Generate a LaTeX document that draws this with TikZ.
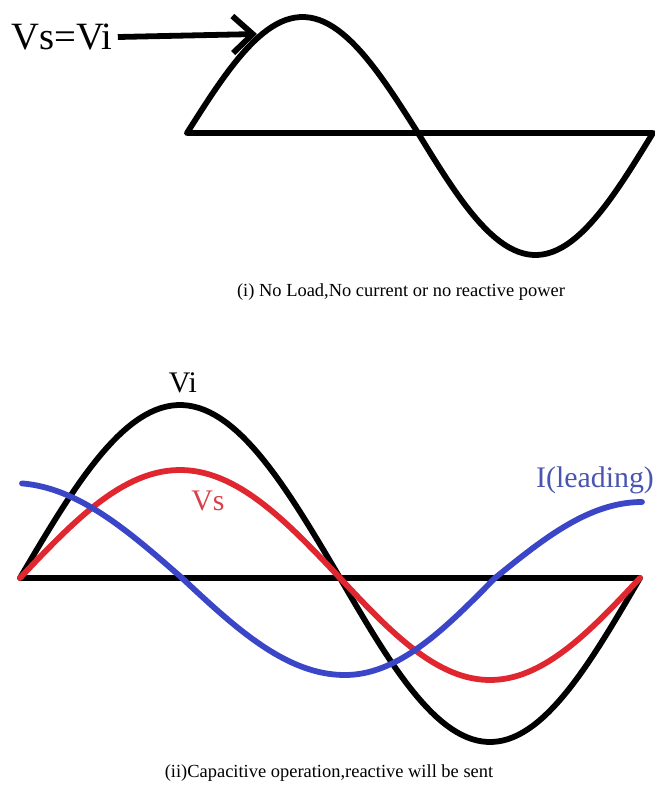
\documentclass[tikz,border=0pt]{standalone}
\usepackage{fontspec}
\setmainfont{Liberation Serif}
\usetikzlibrary{arrows.meta, positioning}
\definecolor{vsred}{HTML}{E0262E}
\definecolor{iblue}{HTML}{3A45C8}
\definecolor{vstext}{HTML}{D8404A}
\definecolor{itext}{HTML}{4A55B0}

\begin{document}
\begin{tikzpicture}[
  x=0.02cm, y=-0.02cm,
  wave/.style={line width=3.3pt, line join=round, line cap=round},
  axisline/.style={line width=3.3pt},
  lbl/.style={inner sep=0pt, font=\fontsize{17}{17}\selectfont},
  caption/.style={inner sep=0pt, font=\fontsize{10.5}{12}\selectfont},
  arr/.style={line width=3.3pt, -{Straight Barb[length=4mm, width=7.4mm, line width=3.3pt]}},
]
  \useasboundingbox (0,0) rectangle (655,789);

  % (i) no load
  \coordinate (ax1l) at (187,133);
  \coordinate (ax1r) at (653,133);
  \coordinate (pk1)  at (257,34);
  \draw[axisline] (ax1l) -- (ax1r);
  \draw[wave]
    plot[domain=187:418, samples=50] (\x, {133 - 116*sin((\x-187)/231*180)})
    -- plot[domain=418:653, samples=50] (\x, {133 + 122*sin((\x-418)/235*180)});

  \node[lbl, font=\fontsize{22}{22}\selectfont, anchor=west] (vsvi) at (11,37) {Vs=Vi};
  \draw[arr] ([xshift=1mm]vsvi.east) -- (pk1);

  \node[caption] (cap1) at (401,292) {(i) No Load,No current or no reactive power};

  % (ii) capacitive operation
  \coordinate (ax2l) at (20,578);
  \coordinate (ax2r) at (640,578);
  \draw[axisline] (ax2l) -- (ax2r);

  % Vi
  \draw[wave]
    plot[domain=20:340, samples=60] (\x, {578 - 173*sin((\x-20)/320*180)})
    -- plot[domain=340:640, samples=60] (\x, {578 + 164*sin((\x-340)/300*180)});
  % Vs
  \draw[wave, vsred]
    plot[domain=20:340, samples=60] (\x, {578 - 108*sin((\x-20)/320*180)})
    -- plot[domain=340:640, samples=60] (\x, {578 + 102*sin((\x-340)/300*180)});
  % I leading
  \draw[wave, iblue]
    plot[domain=22:182, samples=40] (\x, {578 - 95*cos((\x-12)/170*90)})
    -- plot[domain=182:345, samples=40] (\x, {578 + 97*sin((\x-182)/163*90)})
    -- plot[domain=345:495, samples=40] (\x, {578 + 97*cos((\x-345)/150*90)})
    -- plot[domain=495:642, samples=40] (\x, {578 - 76*sin((\x-495)/147*90)});

  \node[lbl] (vi) at (183,383) {Vi};
  \node[lbl, text=vstext] (vs) at (208,501) {Vs};
  \node[lbl, text=itext] (ilead) at (595,480) {I(leading)};

  \node[caption] (cap2) at (329,773) {(ii)Capacitive operation,reactive will be sent};
\end{tikzpicture}
\end{document}
